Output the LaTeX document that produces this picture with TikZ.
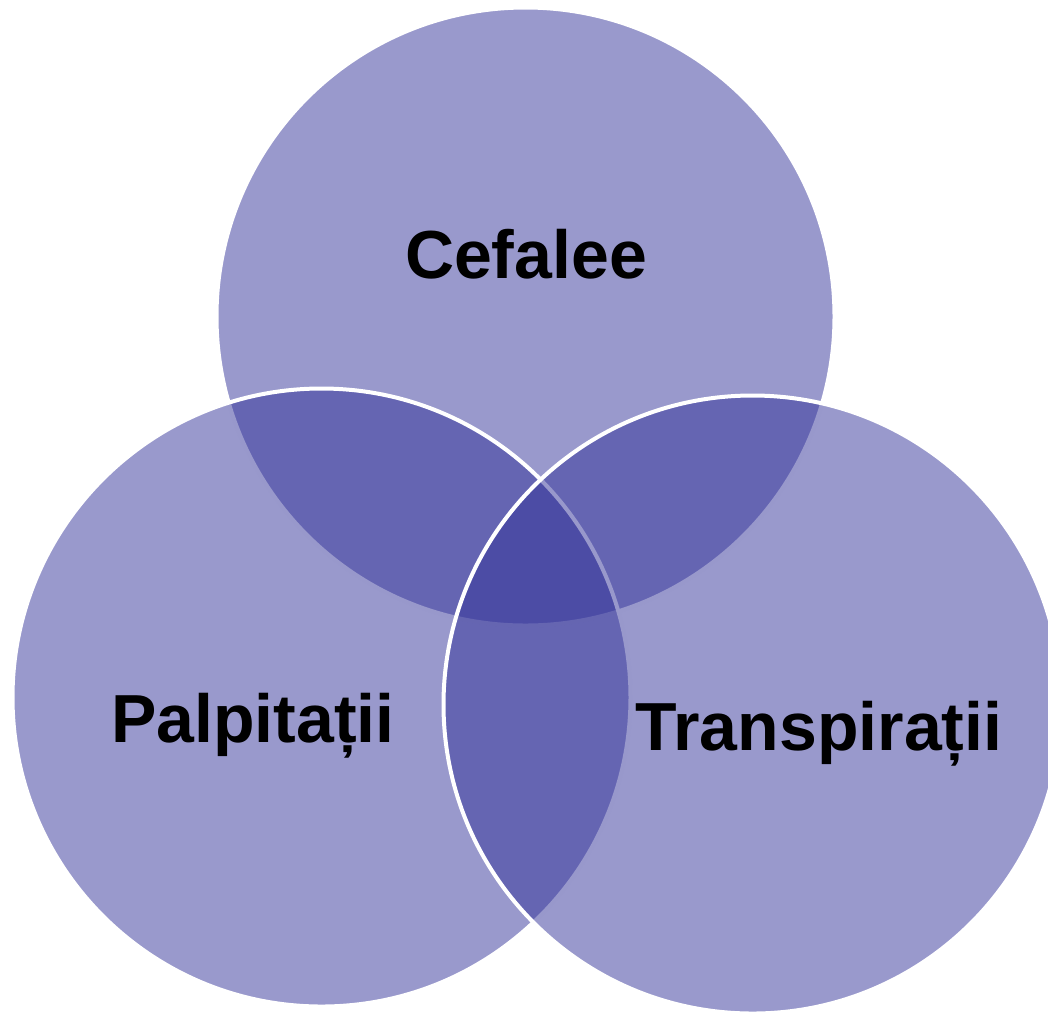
\documentclass[tikz,border=0pt]{standalone}
\usepackage{fontspec}
\setmainfont{Liberation Sans}
\usepackage{tikz}
\usetikzlibrary{positioning}
\definecolor{vennblue}{RGB}{51,51,153}

\begin{document}
\begin{tikzpicture}[x=0.5pt,y=-0.5pt,
	venn/.style={circle,minimum size=309pt,inner sep=0pt,fill=vennblue,fill opacity=0.5,draw=white,draw opacity=1,line width=2pt},
	lbl/.style={anchor=base,inner sep=0pt,font=\fontsize{34}{40}\selectfont\bfseries}]
		\clip (0,0) rectangle (1048,1014);
		\useasboundingbox (0,0) rectangle (1048,1014);

		\node[venn] (cef) at (525.5,316.5) {};
		\node[venn] (pal) at (321.5,697.5) {};
		\node[venn] (tra) at (752.5,704.5) {};

		\node[lbl] (tcef) at (526,278) {Cefalee};
		\node[lbl] (tpal) at (253,742) {Palpitații};
		\node[lbl] (ttra) at (819,750) {Transpirații};
\end{tikzpicture}
\end{document}
